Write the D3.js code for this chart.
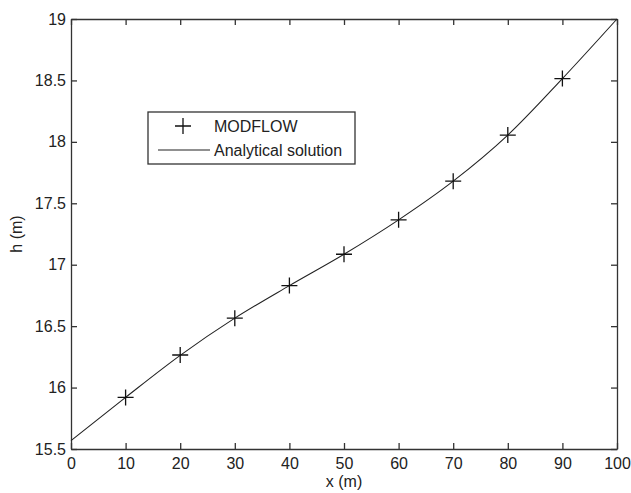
<!DOCTYPE html>
<html>
<head>
<meta charset="utf-8">
<script src="https://cdn.jsdelivr.net/npm/d3@7"></script>
<style>
  body { margin: 0; background: #fff; }
  text { font-family: "Liberation Sans", Arial, sans-serif; fill: #222; }
</style>
</head>
<body>
<div id="chart"></div>
<script>
// MODFLOW points
const modX = [10, 20, 30, 40, 50, 60, 70, 80, 90];
const modH = [15.92, 16.265, 16.565, 16.83, 17.085, 17.365, 17.68, 18.055, 18.515];

// analytical solution curve, read at every 10 m
const anaX = [0, 10, 20, 30, 40, 50, 60, 70, 80, 90, 100];
const anaH = [15.568, 15.92, 16.262, 16.565, 16.83, 17.085, 17.365, 17.68, 18.055, 18.515, 19.0];

const xTicks = [0, 10, 20, 30, 40, 50, 60, 70, 80, 90, 100];
const yTicks = [15.5, 16, 16.5, 17, 17.5, 18, 18.5, 19];

const W = 631, H = 493;
const margin = {top: 19, right: 14, bottom: 44, left: 71};
const width = W - margin.left - margin.right;
const height = H - margin.top - margin.bottom;

const svg = d3.select("#chart")
    .append("svg")
    .attr("width", W)
    .attr("height", H);

const g = svg.append("g")
    .attr("transform", `translate(${margin.left},${margin.top})`);

const x = d3.scaleLinear().domain([0, 100]).range([0, width]);
const y = d3.scaleLinear().domain([15.5, 19]).range([height, 0]);

const axisColor = "#333";

// axes: bottom/left with labels, top/right ticks only, all ticks inward
const styleAxis = sel => {
    sel.selectAll("path").attr("stroke", axisColor).attr("stroke-width", 1.3);
    sel.selectAll("line").attr("stroke", axisColor).attr("stroke-width", 1.3);
    sel.selectAll("text").style("font-size", "16px").attr("fill", "#222");
};

g.append("g")
    .attr("transform", `translate(0,${height})`)
    .call(d3.axisBottom(x).tickValues(xTicks).tickSize(-6).tickSizeOuter(0).tickPadding(9))
    .call(styleAxis);

g.append("g")
    .call(d3.axisLeft(y).tickValues(yTicks).tickSize(-6).tickSizeOuter(0).tickPadding(5).tickFormat(d3.format("")))
    .call(styleAxis);

g.append("g")
    .call(d3.axisTop(x).tickValues(xTicks).tickSize(-6).tickSizeOuter(0).tickFormat(""))
    .call(styleAxis);

g.append("g")
    .attr("transform", `translate(${width},0)`)
    .call(d3.axisRight(y).tickValues(yTicks).tickSize(-6).tickSizeOuter(0).tickFormat(""))
    .call(styleAxis);

g.selectAll(".domain").attr("fill", "none");
g.selectAll(".tick text").attr("dy", "0.32em");
g.selectAll("g").filter(function() { return this.getAttribute("transform") === `translate(0,${height})`; })
    .selectAll(".tick text").attr("dy", "0.71em");

// analytical curve
const anaData = anaX.map((d, i) => ({x: d, h: anaH[i]}));
const line = d3.line().x(d => x(d.x)).y(d => y(d.h)).curve(d3.curveMonotoneX);

g.append("path")
    .datum(anaData)
    .attr("d", line)
    .attr("fill", "none")
    .attr("stroke", "#222")
    .attr("stroke-width", 1.1);

// MODFLOW plus markers
const plus = d3.symbol().type(d3.symbolCross);
const mk = 8;
const modData = modX.map((d, i) => ({x: d, h: modH[i]}));
g.selectAll(".mod")
    .data(modData)
    .enter()
    .append("path")
    .attr("class", "mod")
    .attr("d", d => `M${x(d.x) - mk},${y(d.h)}H${x(d.x) + mk}M${x(d.x)},${y(d.h) - mk}V${y(d.h) + mk}`)
    .attr("stroke", "#111")
    .attr("stroke-width", 1.3)
    .attr("fill", "none");

// legend
const leg = svg.append("g").attr("transform", "translate(148,112)");
leg.append("rect")
    .attr("x", 0).attr("y", 0)
    .attr("width", 207).attr("height", 52)
    .attr("fill", "#fff")
    .attr("stroke", axisColor)
    .attr("stroke-width", 1.3);
leg.append("path")
    .attr("d", `M${35 - mk},14H${35 + mk}M35,${14 - mk}V${14 + mk}`)
    .attr("stroke", "#111").attr("stroke-width", 1.3);
leg.append("line")
    .attr("x1", 10).attr("x2", 62)
    .attr("y1", 38).attr("y2", 38)
    .attr("stroke", "#222").attr("stroke-width", 1.1);
leg.append("text").attr("x", 66).attr("y", 20).style("font-size", "16px").text("MODFLOW");
leg.append("text").attr("x", 66).attr("y", 44).style("font-size", "16px").text("Analytical solution");

// axis titles
svg.append("text")
    .attr("x", margin.left + width / 2)
    .attr("y", 487)
    .attr("text-anchor", "middle")
    .style("font-size", "16px")
    .text("x (m)");

svg.append("text")
    .attr("transform", `translate(22,${margin.top + height / 2}) rotate(-90)`)
    .attr("text-anchor", "middle")
    .style("font-size", "16px")
    .text("h (m)");
</script>
</body>
</html>
